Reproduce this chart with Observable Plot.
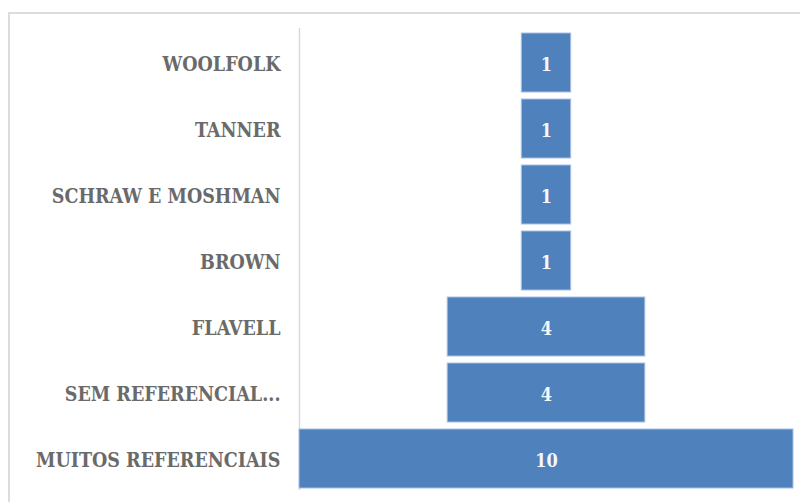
<!DOCTYPE html>
<html><head><meta charset="utf-8">
<script src="https://cdn.jsdelivr.net/npm/d3@7"></script>
<script src="https://cdn.jsdelivr.net/npm/@observablehq/plot@0.6"></script>
<style>
body{margin:0;background:#fff;}
#wrap{position:relative;width:800px;height:502px;overflow:hidden;}
#frame{position:absolute;left:8px;top:12px;width:820px;height:520px;border:2px solid #dcdcdc;box-sizing:border-box;}
#chart{position:absolute;left:0;top:0;}
</style></head>
<body><div id="wrap"><div id="frame"></div><div id="chart"></div></div>
<script>
const categories = ["WOOLFOLK","TANNER","SCHRAW E MOSHMAN","BROWN","FLAVELL","SEM REFERENCIAL...","MUITOS REFERENCIAIS"];
const values = [1,1,1,1,4,4,10];
const data = categories.map((c,i)=>({cat:c, value:values[i]}));
const font = "'DejaVu Serif Condensed', 'DejaVu Serif', serif";
const chart = Plot.plot({
  width: 800, height: 502,
  marginLeft: 299, marginRight: 7, marginTop: 25, marginBottom: 7,
  style: {fontFamily: font, background: "transparent"},
  x: {domain: [-5, 5], axis: null},
  y: {domain: categories, padding: 0.11, label: null},
  marks: [
    Plot.ruleX([-5], {stroke: "#d9d9d9", strokeWidth: 1.5, insetTop: 3, insetBottom: 5}),
    Plot.barX(data, {y: "cat", x1: d => -d.value/2, x2: d => d.value/2, fill: "#4f81bd", stroke: "#a9c0e0", strokeWidth: 1}),
    Plot.text(data, {y: "cat", x: 0, dy: 2, text: d => String(d.value), fill: "#f4f7fb", fontSize: 18, fontWeight: "bold", fontFamily: font}),
    Plot.axisY({tickSize: 0, tickPadding: 19, dy: 2, fontSize: 19.5, fontWeight: "bold", color: "#6a6a6a", fontFamily: font})
  ]
});
document.getElementById("chart").appendChild(chart);
</script></body></html>
